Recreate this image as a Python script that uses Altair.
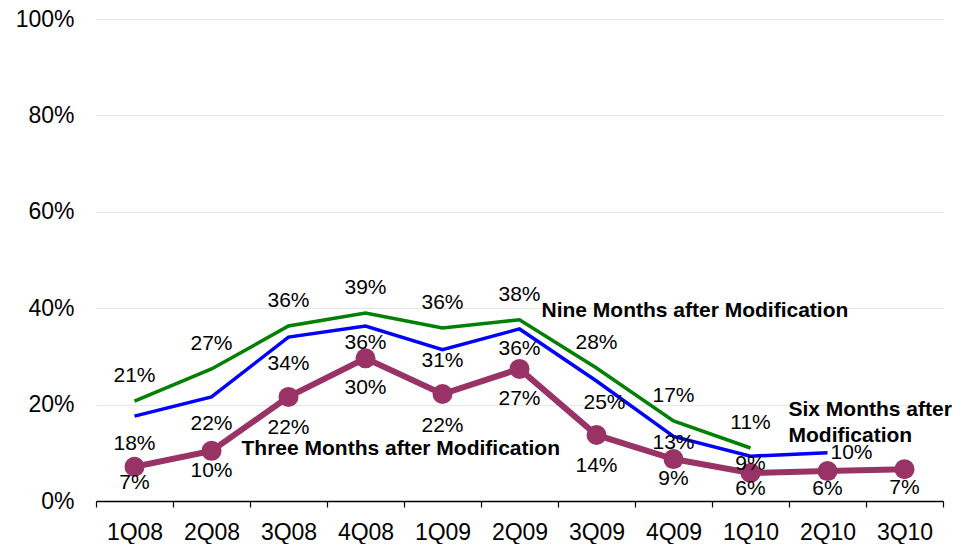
import altair as alt
import pandas as pd

quarters = ["1Q08", "2Q08", "3Q08", "4Q08", "1Q09", "2Q09", "3Q09", "4Q09", "1Q10", "2Q10", "3Q10"]
nine_months = [20.7, 27.4, 36.3, 39.0, 35.9, 37.6, 27.6, 16.6, 11.0]
six_months = [17.6, 21.6, 34.0, 36.3, 31.4, 35.7, 24.9, 13.4, 9.3, 10.0]
three_months = [7.1, 10.4, 21.6, 29.6, 22.2, 27.4, 13.7, 8.7, 5.8, 6.2, 6.6]

series_names = ["Nine Months after Modification", "Six Months after Modification", "Three Months after Modification"]
series_values = [nine_months, six_months, three_months]
series_colors = ["#008000", "#0000FF", "#993366"]

# label placement offsets (pixels) per point
label_dy = [
    [-25] * 9,
    [28, 27, 27, 17, 11, 20, 22, 7, 8, 0],
    [16, 20, 31, 30, 32, 30, 31, 20, 16, 18, 19],
]
label_dx = [
    [0] * 9,
    [0, 0, 0, 0, 0, 0, 8, 0, 0, 24],
    [0] * 11,
]

annot_text = ["Nine Months after Modification", "Three Months after Modification", "Six Months after", "Modification"]
annot_x = ["2Q09", "2Q08", "1Q10", "1Q10"]
annot_y = [39.4, 10.8, 18.9, 13.5]
annot_dx = [22, 30, 38, 38]

PLOT_H = 482

rows = []
for name, vals, dys, dxs in zip(series_names, series_values, label_dy, label_dx):
    for q, v, dy, dx in zip(quarters, vals, dys, dxs):
        rows.append({"quarter": q, "value": v, "series": name, "label": f"{round(v)}%", "dy": dy, "dx": dx})
df = pd.DataFrame(rows)
adf = pd.DataFrame({"text": annot_text, "quarter": annot_x, "value": annot_y})

FONT = "Liberation Sans"
FS = 21
AXFS = 23

x_enc = alt.X("quarter:N", sort=quarters,
              scale=alt.Scale(type="band", domain=quarters, paddingInner=0, paddingOuter=0),
              axis=alt.Axis(title=None, labelAngle=0, labelFontSize=AXFS, labelFont=FONT, labelColor="black",
                            domainColor="black", domainWidth=1.5, tickColor="black", tickSize=6, tickWidth=1.2,
                            tickBand="extent", labelPadding=14, grid=False))
y_scale = alt.Scale(domain=[0, 100])
y_enc = alt.Y("value:Q", scale=y_scale,
              axis=alt.Axis(title=None, values=[0, 20, 40, 60, 80, 100], labelExpr="datum.value + '%'",
                            labelFontSize=AXFS, labelFont=FONT, labelColor="black", labelPadding=22,
                            domain=False, ticks=False, grid=True, gridColor="#e6e6e6"))

def is_series(name):
    return alt.datum.series == name

base = alt.Chart(df)

green_line = base.transform_filter(is_series(series_names[0])).mark_line(strokeWidth=3.5, color=series_colors[0]).encode(x=x_enc, y=y_enc)
blue_line = base.transform_filter(is_series(series_names[1])).mark_line(strokeWidth=3.5, color=series_colors[1]).encode(x=x_enc, y=y_enc)
purple_line = base.transform_filter(is_series(series_names[2])).mark_line(strokeWidth=6, color=series_colors[2]).encode(x=x_enc, y=y_enc)
purple_pts = base.transform_filter(is_series(series_names[2])).mark_circle(size=400, opacity=1, color=series_colors[2]).encode(x=x_enc, y=y_enc)

label_layers = []
for dxv in sorted(set(d for row in label_dx for d in row)):
    label_layers.append(
        base.transform_filter(alt.datum.dx == dxv)
        .transform_calculate(label_y=f"datum.value - datum.dy * 100 / {PLOT_H}")
        .mark_text(fontSize=FS, font=FONT, color="black", baseline="middle", dx=dxv)
        .encode(x=x_enc, y=alt.Y("label_y:Q", scale=y_scale), text="label:N")
    )

annot_layers = []
for t, d in zip(annot_text, annot_dx):
    annot_layers.append(
        alt.Chart(adf).transform_filter(alt.datum.text == t)
        .mark_text(fontSize=FS, font=FONT, fontWeight="bold", color="black", align="left", baseline="middle", dx=d)
        .encode(x=x_enc, y=alt.Y("value:Q", scale=y_scale), text="text:N")
    )

chart = alt.layer(green_line, blue_line, purple_line, purple_pts, *label_layers, *annot_layers).properties(
    width=847, height=PLOT_H, padding={"left": 7, "top": 0, "right": 5, "bottom": 0}
).configure(background="white").configure_view(stroke=None)

chart.save("out.html", embed_options={"renderer": "svg", "actions": False})
